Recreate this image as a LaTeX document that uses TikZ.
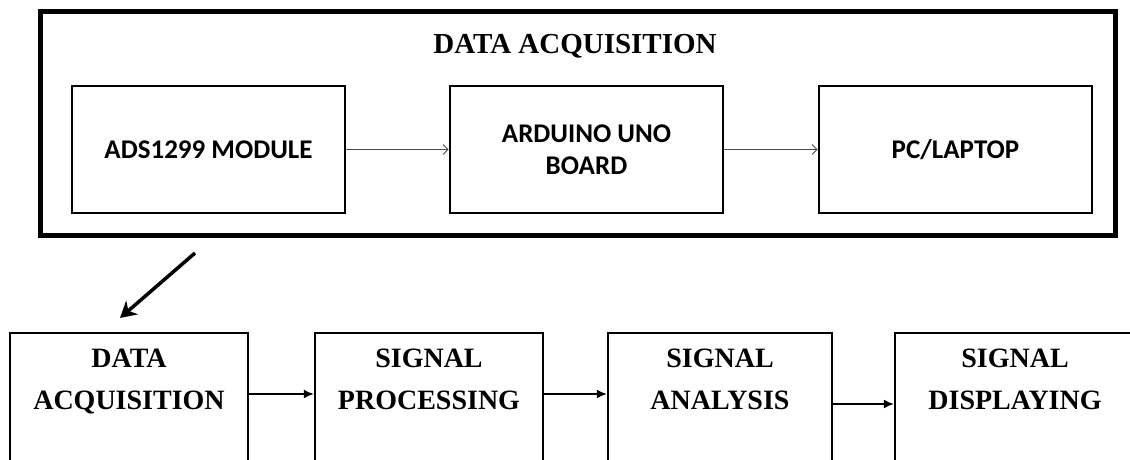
\documentclass[tikz,border=0pt]{standalone}
\usepackage{fontspec}
\setmainfont{Liberation Serif}
\newfontfamily\boxfont{Carlito}
\usetikzlibrary{arrows.meta}

\begin{document}
\begin{tikzpicture}[x=1pt,y=-1pt,
   inbox/.style={draw,line width=2.6pt,minimum width=273pt,minimum height=127pt,
     align=center,font=\boxfont\bfseries\fontsize{27}{32}\selectfont},
   stage/.style={draw,line width=2.4pt,minimum height=140pt,inner sep=0pt},
   stagetext/.style={anchor=north,inner sep=0pt,align=center,
     font=\bfseries\fontsize{28}{42}\selectfont},
   linkarrow/.style={-{Straight Barb[length=5pt,width=10pt]},gray!60!black,line width=0.9pt},
   flowarrow/.style={-{Latex[length=10pt,width=9pt]},line width=1.6pt}]
   \useasboundingbox (0,0) rectangle (1130,460);
   \clip (0,0) rectangle (1130,460);
   % data acquisition detail
   \begin{scope}
    \node[draw,line width=5pt,minimum width=1075pt,minimum height=223pt] (acq) at (577.5,123.5) {};
    \node[font=\bfseries\fontsize{29}{34}\selectfont] (title) at (575,46) {DATA ACQUISITION};
    \node[inbox] (ads) at (208.5,149.5) {ADS1299 MODULE};
    \node[inbox] (ard) at (586.5,149.5) {ARDUINO UNO\\BOARD};
    \node[inbox] (pc) at (955.5,149.5) {PC/LAPTOP};
    \draw[linkarrow] (ads) -- (ard);
    \draw[linkarrow] (ard) -- (pc);
   \end{scope}
   % pointer to the first stage
   \coordinate (from) at (195,253);
   \coordinate (to) at (120,318);
   \draw[-{Stealth[length=16pt,width=18pt,inset=5pt]},line width=3.5pt] (from) -- (to);
   % processing chain
   \begin{scope}
    \node[stage,minimum width=238pt] (s1) at (129,403) {};
    \node[stage,minimum width=228pt] (s2) at (429,403) {};
    \node[stage,minimum width=224pt] (s3) at (720,403) {};
    \node[stage,minimum width=240pt] (s4) at (1015,403) {};
    \node[stagetext] (t1) at (129,349) {DATA\\ACQUISITION};
    \node[stagetext] (t2) at (429,349) {SIGNAL\\PROCESSING};
    \node[stagetext] (t3) at (720,349) {SIGNAL\\ANALYSIS};
    \node[stagetext] (t4) at (1015,349) {SIGNAL\\DISPLAYING};
    \draw[flowarrow] ([yshift=9pt]s1.east) -- ([yshift=9pt]s2.west);
    \draw[flowarrow] ([yshift=9pt]s2.east) -- ([yshift=9pt]s3.west);
    \draw[flowarrow] ([yshift=-1pt]s3.east) -- ([yshift=-1pt]s4.west);
   \end{scope}
\end{tikzpicture}
\end{document}
